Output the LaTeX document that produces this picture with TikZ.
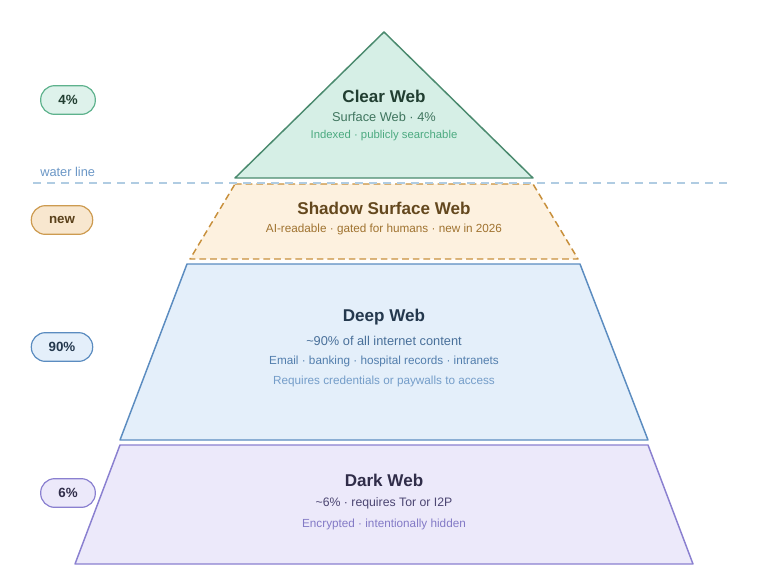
\documentclass[tikz,border=0pt]{standalone}
\usepackage{fontspec}
\setmainfont{Liberation Sans}
\usetikzlibrary{positioning}

\definecolor{clearline}{HTML}{4A8A6E}
\definecolor{clearfill}{HTML}{D6EFE6}
\definecolor{clearsoft}{HTML}{4CAA80}
\definecolor{shadowline}{HTML}{C8903C}
\definecolor{shadowfill}{HTML}{FDF1DF}
\definecolor{deepline}{HTML}{5B8CC0}
\definecolor{deepfill}{HTML}{E4EFFA}
\definecolor{darkline}{HTML}{8A80D0}
\definecolor{darkfill}{HTML}{ECE9FA}
\definecolor{waterline}{HTML}{B0CCE2}

\tikzset{
  title/.style={font=\bfseries\fontsize{12.8}{14}\selectfont},
  sub/.style={font=\fontsize{9.6}{11}\selectfont},
  small/.style={font=\fontsize{8.5}{10}\selectfont},
  pill/.style={draw, rounded corners=10.5pt, line width=0.9pt, minimum height=21.5pt,
    inner xsep=6pt, font=\bfseries\fontsize{10}{12}\selectfont},
  layer/.style={line width=1.1pt, line join=round}
}

\begin{document}
\begin{tikzpicture}[x=0.75pt,y=-0.75pt]
  \useasboundingbox (0,0) rectangle (768,587);

  % layers
  \draw[layer, draw=clearline, fill=clearfill] (384,32) -- (533,178) -- (235,178) -- cycle;
  \draw[layer, dashed, dash pattern=on 5pt off 3pt, draw=shadowline, fill=shadowfill]
    (235,184) -- (533,184) -- (578,259) -- (190,259) -- cycle;
  \draw[layer, draw=deepline, fill=deepfill] (187,264) -- (580,264) -- (648,440) -- (120,440) -- cycle;
  \draw[layer, draw=darkline, fill=darkfill] (120,445) -- (648,445) -- (693,564) -- (75,564) -- cycle;

  % water line
  \draw[waterline, line width=0.9pt, dash pattern=on 6pt off 4.5pt] (33,183) -- (730,183);
  \node[sub, text=deepline!90!white, anchor=west, inner sep=0pt] (water) at (40,172) {water line};

  % clear web
  \node[title, text=clearline!45!black] (clear) at (384,96) {Clear Web};
  \node[sub, text=clearline!85!black] (clearsub) at (384,117) {Surface Web · 4\%};
  \node[small, text=clearsoft] (clearnote) at (384,136) {Indexed · publicly searchable};

  % shadow surface web
  \node[title, text=shadowline!50!black] (shadow) at (384,208) {Shadow Surface Web};
  \node[small, text=shadowline!80!black, font=\fontsize{8.8}{10}\selectfont] (shadowsub) at (384,229) {AI-readable · gated for humans · new in 2026};

  % deep web
  \node[title, text=deepline!40!black] (deep) at (384,317) {Deep Web};
  \node[sub, text=deepline!80!black] (deepsub) at (384,341) {\textasciitilde 90\% of all internet content};
  \node[small, text=deepline!90!black, font=\fontsize{8.8}{10}\selectfont] (deepuse) at (384,361) {Email · banking · hospital records · intranets};
  \node[small, text=deepline!85!white, font=\fontsize{8.8}{10}\selectfont] (deepnote) at (384,381) {Requires credentials or paywalls to access};

  % dark web
  \node[title, text=darkline!35!black] (dark) at (384,480) {Dark Web};
  \node[sub, text=darkline!55!black, font=\fontsize{9.2}{11}\selectfont] (darksub) at (384,503) {\textasciitilde 6\% · requires Tor or I2P};
  \node[small, text=darkline!95!black, font=\fontsize{8.8}{10}\selectfont] (darknote) at (384,524) {Encrypted · intentionally hidden};

  % pills
  \node[pill, draw=clearsoft!90!white, fill=clearfill!80!white, text=clearline!45!black, minimum width=41pt] (pclear) at (68,100) {4\%};
  \node[pill, draw=shadowline!90!white, fill=shadowfill!90!shadowline, text=shadowline!45!black, minimum width=46pt] (pshadow) at (62,220) {new};
  \node[pill, draw=deepline, fill=deepfill, text=deepline!40!black, minimum width=46pt] (pdeep) at (62,347) {90\%};
  \node[pill, draw=darkline, fill=darkfill, text=darkline!35!black, minimum width=41pt] (pdark) at (68,493) {6\%};
\end{tikzpicture}
\end{document}
